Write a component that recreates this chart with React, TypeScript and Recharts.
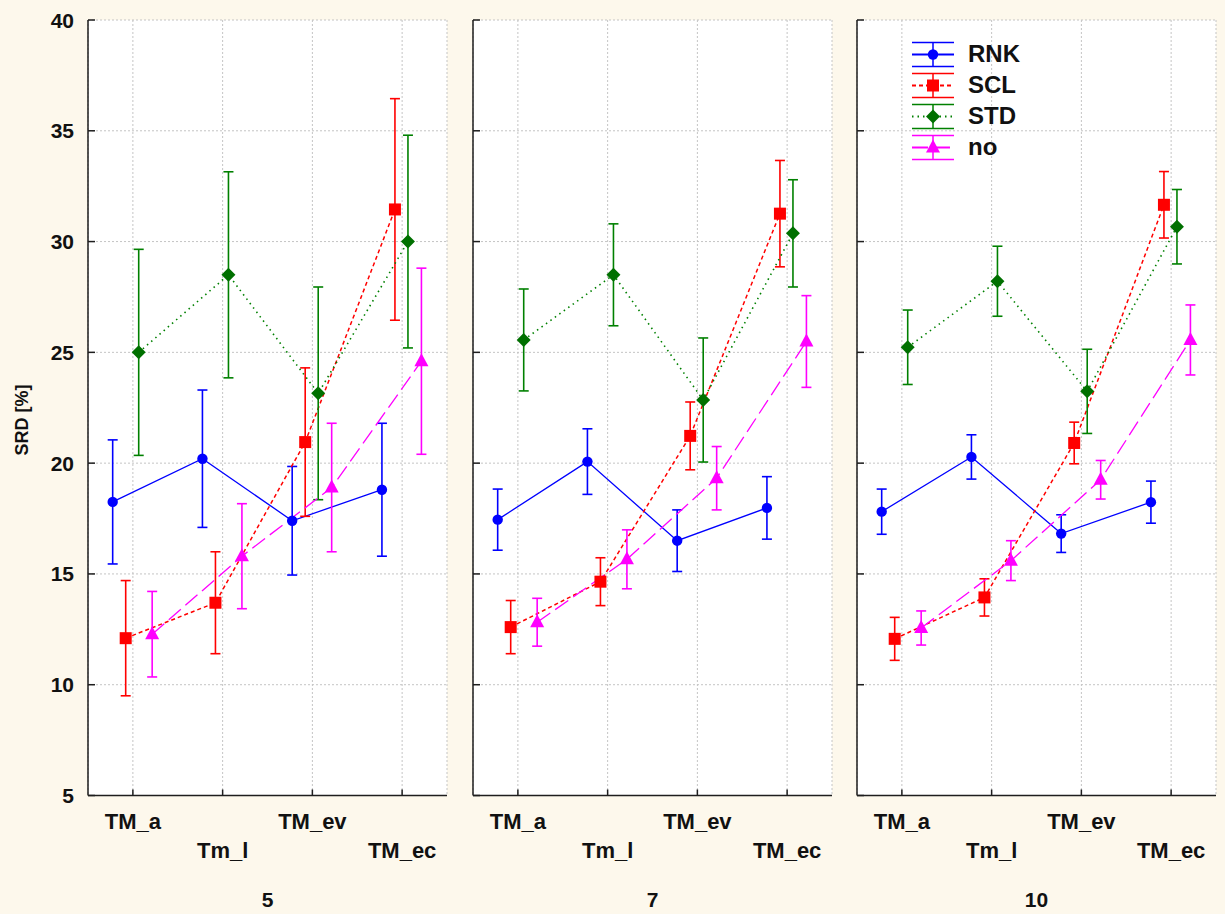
import { ComposedChart, Line, XAxis, YAxis, CartesianGrid, ErrorBar, Legend } from 'recharts'

const CATEGORIES = ['TM_a', 'Tm_l', 'TM_ev', 'TM_ec']
const PANELS = ['5', '7', '10']
const Y_TICKS = [5, 10, 15, 20, 25, 30, 35, 40]
const X_TICKS = [1, 2, 3, 4]

// one row per panel (5, 7, 10), one value per category
const RNK_MEAN = [[18.25, 20.2, 17.4, 18.8], [17.45, 20.07, 16.5, 17.98], [17.81, 20.28, 16.82, 18.24]]
const RNK_ERR = [[2.8, 3.1, 2.45, 3.0], [1.38, 1.48, 1.39, 1.41], [1.02, 1.0, 0.85, 0.95]]
const SCL_MEAN = [[12.1, 13.7, 20.95, 31.45], [12.6, 14.65, 21.23, 31.26], [12.07, 13.94, 20.91, 31.66]]
const SCL_ERR = [[2.6, 2.3, 3.35, 5.0], [1.2, 1.08, 1.53, 2.4], [0.97, 0.84, 0.94, 1.5]]
const STD_MEAN = [[25.0, 28.5, 23.15, 30.0], [25.56, 28.5, 22.85, 30.37], [25.23, 28.21, 23.24, 30.67]]
const STD_ERR = [[4.65, 4.65, 4.8, 4.8], [2.3, 2.3, 2.8, 2.42], [1.68, 1.58, 1.9, 1.68]]
const NO_MEAN = [[12.28, 15.8, 18.9, 24.6], [12.82, 15.66, 19.32, 25.49], [12.56, 15.6, 19.25, 25.56]]
const NO_ERR = [[1.93, 2.37, 2.9, 4.2], [1.08, 1.33, 1.43, 2.07], [0.77, 0.9, 0.87, 1.58]]

const SERIES = [
  { name: 'RNK', mean: RNK_MEAN, err: RNK_ERR, color: '#0000ff', dash: undefined, width: 1.3, shift: -0.225, shape: 'circle' },
  { name: 'SCL', mean: SCL_MEAN, err: SCL_ERR, color: '#ff0000', dash: '4 3', width: 1.5, shift: -0.08, shape: 'square' },
  { name: 'STD', mean: STD_MEAN, err: STD_ERR, color: '#008000', dash: '1.5 4', width: 1.6, shift: 0.065, shape: 'diamond' },
  { name: 'no', mean: NO_MEAN, err: NO_ERR, color: '#ff00ff', dash: '16 6', width: 1.3, shift: 0.215, shape: 'triangle' },
]

const PANEL_X = [88, 472.5, 857]
const PLOT_W = 359
const FONT = '"Liberation Sans", Arial, sans-serif'
const FRAME = '#1e1e1e'

function Marker({ cx, cy, shape, color }: any) {
  if (cx == null || cy == null) return null
  if (shape === 'circle') return <circle cx={cx} cy={cy} r={5.2} fill={color} />
  if (shape === 'square') return <rect x={cx - 6} y={cy - 6} width={12} height={12} fill={color} />
  if (shape === 'diamond')
    return <polygon points={`${cx},${cy - 7} ${cx + 7},${cy} ${cx},${cy + 7} ${cx - 7},${cy}`} fill="#007000" />
  return <polygon points={`${cx},${cy - 8} ${cx + 7},${cy + 5} ${cx - 7},${cy + 5}`} fill={color} />
}

function LegendBox() {
  return (
    <div style={{ fontFamily: FONT }}>
      {SERIES.map((s) => (
        <div key={s.name} style={{ display: 'flex', alignItems: 'center', height: 31 }}>
          <svg width={42} height={31} style={{ display: 'block' }}>
            <line x1={0} x2={42} y1={3.5} y2={3.5} stroke={s.color} strokeWidth={1.5} />
            <line x1={0} x2={42} y1={27.5} y2={27.5} stroke={s.color} strokeWidth={1.5} />
            <line x1={21} x2={21} y1={3.5} y2={27.5} stroke={s.color} strokeWidth={1.5} />
            <line x1={0} x2={42} y1={15.5} y2={15.5} stroke={s.color} strokeWidth={2} strokeDasharray={s.dash} />
            <Marker cx={21} cy={15.5} shape={s.shape} color={s.color} />
          </svg>
          <span style={{ marginLeft: 14, fontSize: 24, fontWeight: 'bold', color: '#111' }}>{s.name}</span>
        </div>
      ))}
    </div>
  )
}

function Panel({ p }: { p: number }) {
  const first = p === 0
  const yw = first ? 88 : 12
  const rightPad = 12

  const BottomTick = (props: any) => {
    const { x, y, payload } = props
    const row = (payload.value - 1) % 2
    return (
      <g>
        <line x1={x} y1={y} x2={x} y2={y - 6} stroke={FRAME} strokeWidth={1.5} />
        <text x={x} y={y + 33 + row * 29} textAnchor="middle" fontSize={22} fontWeight="bold" fontFamily={FONT} fill="#111">
          {CATEGORIES[payload.value - 1]}
        </text>
      </g>
    )
  }
  const TopTick = (props: any) => (
    <line x1={props.x} y1={props.y} x2={props.x} y2={props.y + 6} stroke={FRAME} strokeWidth={1.5} />
  )
  const LeftTick = (props: any) => {
    const { x, y, payload } = props
    return (
      <g>
        <line x1={x} y1={y} x2={x + 7} y2={y} stroke={FRAME} strokeWidth={1.5} />
        {first && (
          <text x={x - 14} y={y + 7.5} textAnchor="end" fontSize={21} fontWeight="bold" fontFamily={FONT} fill="#111">
            {payload.value}
          </text>
        )}
      </g>
    )
  }
  const RightTick = (props: any) => (
    <line x1={props.x} y1={props.y} x2={props.x - 7} y2={props.y} stroke={FRAME} strokeWidth={1.5} />
  )

  return (
    <div style={{ position: 'absolute', left: PANEL_X[p] - yw, top: 0 }}>
      <ComposedChart width={yw + PLOT_W + rightPad} height={914} margin={{ top: 20, right: rightPad, bottom: 0, left: 0 }}>
        <CartesianGrid stroke="#c4c4c4" strokeDasharray="2 2" fill="#ffffff" />
        <XAxis
          type="number"
          dataKey="x"
          domain={[0.5, 4.5]}
          allowDataOverflow
          ticks={X_TICKS}
          interval={0}
          height={118.5}
          tickSize={0}
          tickMargin={0}
          tickLine={false}
          axisLine={{ stroke: FRAME, strokeWidth: 1.5 }}
          tick={BottomTick}
          label={{ value: PANELS[p], position: 'insideBottom', offset: 7, fontSize: 21, fontWeight: 'bold', fill: '#111', fontFamily: FONT }}
        />
        <XAxis
          xAxisId="top"
          orientation="top"
          type="number"
          domain={[0.5, 4.5]}
          allowDataOverflow
          ticks={X_TICKS}
          interval={0}
          height={0}
          tickSize={0}
          tickMargin={0}
          tickLine={false}
          axisLine={{ stroke: FRAME, strokeWidth: 1.5 }}
          tick={TopTick}
        />
        <YAxis
          type="number"
          domain={[5, 40]}
          allowDataOverflow
          ticks={Y_TICKS}
          interval={0}
          width={yw}
          tickSize={0}
          tickMargin={0}
          tickLine={false}
          axisLine={{ stroke: FRAME, strokeWidth: 1.5 }}
          tick={LeftTick}
        />
        <YAxis
          yAxisId="right"
          orientation="right"
          type="number"
          domain={[5, 40]}
          allowDataOverflow
          ticks={Y_TICKS}
          interval={0}
          width={0}
          tickSize={0}
          tickMargin={0}
          tickLine={false}
          axisLine={{ stroke: FRAME, strokeWidth: 1.5 }}
          tick={RightTick}
        />
        {SERIES.map((s) => (
          <Line
            key={s.name}
            name={s.name}
            data={CATEGORIES.map((c, i) => ({ cat: c, x: i + 1 + s.shift, y: s.mean[p][i], err: s.err[p][i] }))}
            dataKey="y"
            stroke={s.color}
            strokeWidth={s.width}
            strokeDasharray={s.dash}
            isAnimationActive={false}
            dot={(d: any) => <Marker key={`${s.name}-${d.index}`} cx={d.cx} cy={d.cy} shape={s.shape} color={s.color} />}
            activeDot={false}
          >
            <ErrorBar dataKey="err" direction="y" width={5} stroke={s.color} strokeWidth={1.6} isAnimationActive={false} />
          </Line>
        ))}
        {p === 2 && (
          <Legend
            content={() => <LegendBox />}
            layout="vertical"
            align="center"
            verticalAlign="middle"
            wrapperStyle={{ left: 912 - (PANEL_X[2] - yw), top: 38.5, width: 160 }}
          />
        )}
      </ComposedChart>
    </div>
  )
}

export default function App() {
  return (
    <div style={{ position: 'absolute', left: 0, top: 0, width: 1225, height: 914, background: '#fdf8ec', fontFamily: FONT }}>
      {PANELS.map((_, p) => (
        <Panel key={p} p={p} />
      ))}
      <div
        style={{
          position: 'absolute',
          left: 22,
          top: 420,
          transform: 'translate(-50%, -50%) rotate(-90deg)',
          fontSize: 18,
          fontWeight: 'bold',
          color: '#111',
          whiteSpace: 'nowrap',
        }}
      >
        SRD [%]
      </div>
    </div>
  )
}
